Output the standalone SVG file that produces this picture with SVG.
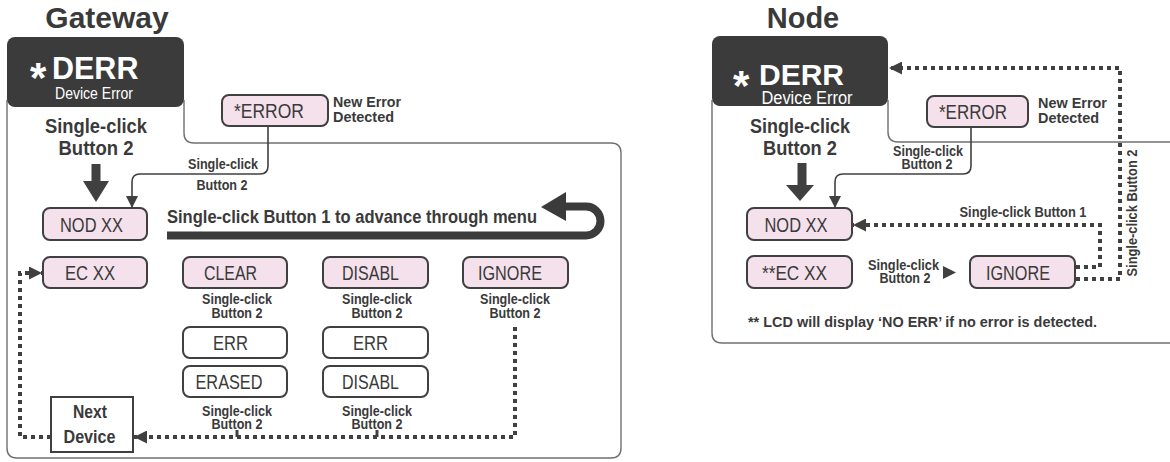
<svg xmlns="http://www.w3.org/2000/svg" width="1170" height="462" viewBox="0 0 1170 462">
<style>
.t{font-family:"Liberation Sans",Arial,sans-serif;fill:#3a3a3a}
.b{font-weight:bold}
.w{fill:#ffffff}
.m{text-anchor:middle}
.box{fill:#f4e1ec;stroke:#404040;stroke-width:2}
.wbox{fill:#ffffff;stroke:#404040;stroke-width:2}
.dark{fill:#3b3b3b}
.panel{fill:none;stroke:#707070;stroke-width:1.4}
.solid{fill:none;stroke:#404040;stroke-width:1.6}
.dot{fill:none;stroke:#404040;stroke-width:4;stroke-dasharray:4 4}
.bt{font-size:20px}
.lab{font-size:14.5px;font-weight:bold}
.fill{fill:#404040}
</style>
<defs>
<marker id="arr" markerUnits="userSpaceOnUse" markerWidth="12" markerHeight="12" viewBox="0 0 12 12" refX="12" refY="6" orient="auto">
<path d="M0,0 L12,6 L0,12 z" fill="#404040"/>
</marker>
<marker id="arrD" markerUnits="userSpaceOnUse" markerWidth="13" markerHeight="13" viewBox="0 0 13 13" refX="13" refY="6.5" orient="auto">
<path d="M0,0 L13,6.5 L0,13 z" fill="#404040"/>
</marker>
</defs>

<!-- ===== Gateway ===== -->
<text class="t b m" x="107" y="28" font-size="30">Gateway</text>
<path class="panel" d="M7,100 V448 Q7,458 17,458 H611 Q621,458 621,448 V153 Q621,143 611,143 H194 Q184,143 184,133 V100"/>

<g id="gw-derr">
<rect class="dark" x="7" y="37" width="177" height="70" rx="8"/>
<text class="t b w" x="30" y="92" font-size="42">*</text>
<text class="t b w" x="52" y="79" font-size="30.5">DERR</text>
<text class="t w m" x="94" y="98.5" font-size="16" textLength="78" lengthAdjust="spacingAndGlyphs">Device Error</text>
</g>

<g id="gw-error">
<rect class="box" x="222" y="95" width="106" height="31" rx="7"/>
<text class="t bt m" x="269" y="118" textLength="70" lengthAdjust="spacingAndGlyphs">*ERROR</text>
</g>
<text class="t b" x="333" y="107" font-size="14.5" textLength="68" lengthAdjust="spacingAndGlyphs">New Error</text>
<text class="t b" x="333" y="122" font-size="14.5" textLength="61" lengthAdjust="spacingAndGlyphs">Detected</text>

<text class="t b m" x="96" y="133" font-size="19.5" textLength="102" lengthAdjust="spacingAndGlyphs">Single-click</text>
<text class="t b m" x="96" y="155" font-size="19.5" textLength="75" lengthAdjust="spacingAndGlyphs">Button 2</text>

<g id="gw-nod">
<rect class="box" x="43" y="208" width="104" height="32" rx="7"/>
<text class="t bt m" x="91.5" y="231.5" textLength="63" lengthAdjust="spacingAndGlyphs">NOD XX</text>
</g>
<g id="gw-ec">
<rect class="box" x="43" y="257" width="104" height="31" rx="7"/>
<text class="t bt m" x="90" y="280" textLength="50" lengthAdjust="spacingAndGlyphs">EC XX</text>
</g>
<g id="gw-clear">
<rect class="box" x="183" y="257" width="104" height="31" rx="7"/>
<text class="t bt m" x="230.5" y="280" textLength="53" lengthAdjust="spacingAndGlyphs">CLEAR</text>
</g>
<g id="gw-disabl">
<rect class="box" x="323" y="257" width="105" height="31" rx="7"/>
<text class="t bt m" x="370.5" y="280" textLength="57" lengthAdjust="spacingAndGlyphs">DISABL</text>
</g>
<g id="gw-ignore">
<rect class="box" x="463" y="257" width="105" height="31" rx="7"/>
<text class="t bt m" x="510" y="280" textLength="64" lengthAdjust="spacingAndGlyphs">IGNORE</text>
</g>
<g id="gw-err1">
<rect class="wbox" x="183" y="327" width="104" height="31" rx="7"/>
<text class="t bt m" x="230.5" y="350" textLength="35" lengthAdjust="spacingAndGlyphs">ERR</text>
</g>
<g id="gw-erased">
<rect class="wbox" x="183" y="366" width="104" height="31" rx="7"/>
<text class="t bt m" x="229" y="389" textLength="67" lengthAdjust="spacingAndGlyphs">ERASED</text>
</g>
<g id="gw-err2">
<rect class="wbox" x="323" y="327" width="105" height="31" rx="7"/>
<text class="t bt m" x="370.5" y="350" textLength="35" lengthAdjust="spacingAndGlyphs">ERR</text>
</g>
<g id="gw-disabl2">
<rect class="wbox" x="323" y="366" width="105" height="31" rx="7"/>
<text class="t bt m" x="370.5" y="389" textLength="57" lengthAdjust="spacingAndGlyphs">DISABL</text>
</g>
<g id="gw-next">
<rect x="51" y="397" width="82" height="55" fill="#ffffff" stroke="#404040" stroke-width="2"/>
<text class="t b m" x="90" y="418" font-size="19" textLength="34" lengthAdjust="spacingAndGlyphs">Next</text>
<text class="t b m" x="89.5" y="443" font-size="19" textLength="52" lengthAdjust="spacingAndGlyphs">Device</text>
</g>

<g id="gw-labels">
<text class="t lab m" x="223" y="169" textLength="70" lengthAdjust="spacingAndGlyphs">Single-click</text>
<text class="t lab m" x="222" y="190" textLength="51" lengthAdjust="spacingAndGlyphs">Button 2</text>
<text class="t b" x="167" y="222.5" font-size="18.5" textLength="370" lengthAdjust="spacingAndGlyphs">Single-click Button 1 to advance through menu</text>
<text class="t lab m" x="237" y="304" textLength="70" lengthAdjust="spacingAndGlyphs">Single-click</text>
<text class="t lab m" x="237" y="317.5" textLength="51" lengthAdjust="spacingAndGlyphs">Button 2</text>
<text class="t lab m" x="377" y="304" textLength="70" lengthAdjust="spacingAndGlyphs">Single-click</text>
<text class="t lab m" x="377" y="317.5" textLength="51" lengthAdjust="spacingAndGlyphs">Button 2</text>
<text class="t lab m" x="515" y="304" textLength="70" lengthAdjust="spacingAndGlyphs">Single-click</text>
<text class="t lab m" x="515" y="317.5" textLength="51" lengthAdjust="spacingAndGlyphs">Button 2</text>
<text class="t lab m" x="237" y="415.5" textLength="70" lengthAdjust="spacingAndGlyphs">Single-click</text>
<text class="t lab m" x="237" y="429" textLength="51" lengthAdjust="spacingAndGlyphs">Button 2</text>
<text class="t lab m" x="377" y="415.5" textLength="70" lengthAdjust="spacingAndGlyphs">Single-click</text>
<text class="t lab m" x="377" y="429" textLength="51" lengthAdjust="spacingAndGlyphs">Button 2</text>
</g>

<g id="gw-connectors">
<polygon class="fill" points="91.5,164 100.5,164 100.5,181 109,181 96,202 83,181 91.5,181"/>
<path class="solid" d="M268,126 V166 Q268,174 260,174 H140 Q132,174 132,182 V208" marker-end="url(#arr)"/>
<path d="M167,235.5 H586 A14.5,14.5 0 0 0 586,206.5 H562" fill="none" stroke="#3b3b3b" stroke-width="8"/>
<polygon fill="#3b3b3b" points="541,207 566,192 566,221"/>
<path class="dot" d="M515,327 V437 H134" marker-end="url(#arrD)"/>
<path class="dot" d="M51,437 H20 V273 H42" marker-end="url(#arrD)"/>
<line x1="237" y1="430" x2="237" y2="437" stroke="#404040" stroke-width="3"/>
<line x1="377" y1="430" x2="377" y2="437" stroke="#404040" stroke-width="3"/>
</g>

<!-- ===== Node ===== -->
<text class="t b m" x="803" y="28" font-size="29">Node</text>
<path class="panel" d="M712,100 V333 Q712,343 722,343 H1172 M1172,142 H898 Q888,142 888,132 V100"/>

<g id="nd-derr">
<rect class="dark" x="712" y="36" width="176" height="70" rx="8"/>
<text class="t b w" x="733" y="100" font-size="42">*</text>
<text class="t b w" x="759" y="85" font-size="30">DERR</text>
<text class="t w m" x="807" y="103.5" font-size="18" textLength="91" lengthAdjust="spacingAndGlyphs">Device Error</text>
</g>

<g id="nd-error">
<rect class="box" x="927" y="96" width="101" height="31" rx="7"/>
<text class="t bt m" x="973" y="119" textLength="68" lengthAdjust="spacingAndGlyphs">*ERROR</text>
</g>
<text class="t b" x="1038" y="108" font-size="14.5" textLength="69" lengthAdjust="spacingAndGlyphs">New Error</text>
<text class="t b" x="1038" y="123" font-size="14.5" textLength="61" lengthAdjust="spacingAndGlyphs">Detected</text>

<text class="t b m" x="800" y="133" font-size="19.5" textLength="100" lengthAdjust="spacingAndGlyphs">Single-click</text>
<text class="t b m" x="800" y="155" font-size="19.5" textLength="74" lengthAdjust="spacingAndGlyphs">Button 2</text>

<g id="nd-nod">
<rect class="box" x="747" y="208" width="105" height="32" rx="7"/>
<text class="t bt m" x="796" y="231.5" textLength="63" lengthAdjust="spacingAndGlyphs">NOD XX</text>
</g>
<g id="nd-ec">
<rect class="box" x="747" y="256" width="105" height="32" rx="7"/>
<text class="t bt m" x="794.5" y="279.5" textLength="65" lengthAdjust="spacingAndGlyphs">**EC XX</text>
</g>
<g id="nd-ignore">
<rect class="box" x="970" y="256" width="105" height="32" rx="7"/>
<text class="t bt m" x="1018" y="279.5" textLength="64" lengthAdjust="spacingAndGlyphs">IGNORE</text>
</g>

<g id="nd-labels">
<text class="t lab m" x="928" y="156" textLength="70" lengthAdjust="spacingAndGlyphs">Single-click</text>
<text class="t lab m" x="927" y="168.5" textLength="51" lengthAdjust="spacingAndGlyphs">Button 2</text>
<text class="t lab m" x="1023" y="217" textLength="127" lengthAdjust="spacingAndGlyphs">Single-click Button 1</text>
<text class="t lab m" x="903.5" y="270" textLength="71" lengthAdjust="spacingAndGlyphs">Single-click</text>
<text class="t lab m" x="905" y="283" textLength="51" lengthAdjust="spacingAndGlyphs">Button 2</text>
<text class="t lab m" transform="translate(1137,213) rotate(-90)" textLength="127" lengthAdjust="spacingAndGlyphs">Single-click Button 2</text>
<text class="t b" x="748" y="327" font-size="15.5" textLength="349" lengthAdjust="spacingAndGlyphs">** LCD will display ‘NO ERR’ if no error is detected.</text>
</g>

<g id="nd-connectors">
<polygon class="fill" points="797.5,163 806.5,163 806.5,185 814,185 800,201 786,185 797.5,185"/>
<path class="solid" d="M971,127 V166 Q971,174 963,174 H843 Q835,174 835,182 V208" marker-end="url(#arr)"/>
<polygon class="fill" points="943,266 956,272.5 943,279"/>
<path class="dot" d="M1076,267 H1100 V225 H853" marker-end="url(#arrD)"/>
<path class="dot" d="M1076,279 H1120 V68 H889" marker-end="url(#arrD)"/>
</g>
</svg>
